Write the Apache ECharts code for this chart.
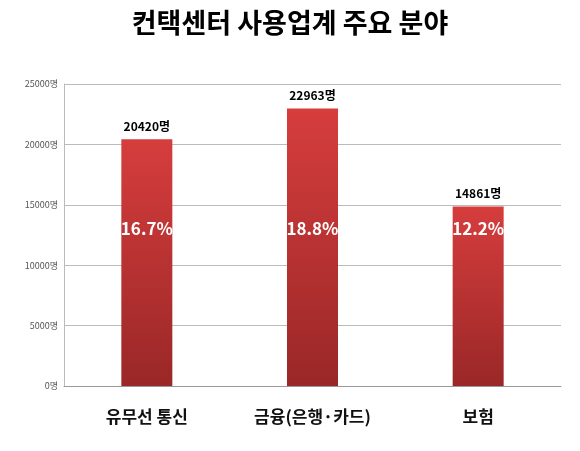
<!DOCTYPE html><html><head><meta charset="utf-8"><script src="https://cdn.jsdelivr.net/npm/echarts@6/dist/echarts.min.js"></script>
<style>html,body{margin:0;padding:0;background:#fff}#c{width:580px;height:451px}</style></head><body><div id="c"></div>
<script>
const categories=['유무선 통신','금융(은행·카드)','보험'];
const values=[20420,22963,14861];
const shares=['16.7%','18.8%','12.2%'];
const chart=echarts.init(document.getElementById('c'));
const font='"Noto Sans CJK KR","Noto Sans",sans-serif';
function opt(offsets){return{
 animation:false,
 title:{text:'컨택센터 사용업계 주요 분야',left:'center',top:4,textStyle:{fontSize:27,fontWeight:'bold',color:'#000',fontFamily:font}},
 grid:{left:64,right:19,top:84,bottom:65},
 xAxis:{type:'category',data:categories,axisLine:{lineStyle:{color:'#999'}},axisTick:{show:false},
  axisLabel:{fontSize:17,fontWeight:'bold',color:'#111',margin:22,fontFamily:font}},
 yAxis:{type:'value',min:0,max:25000,interval:5000,axisLine:{show:true,lineStyle:{color:'#bbb'}},
  splitLine:{lineStyle:{color:'#bbb'}},axisLabel:{formatter:v=>v+'명',fontSize:9,color:'#555',margin:6,fontFamily:font}},
 series:[{type:'bar',data:values,barWidth:51,
  itemStyle:{color:new echarts.graphic.LinearGradient(0,0,0,1,[{offset:0,color:'#d63d3d'},{offset:1,color:'#9a2727'}])},
  label:{show:true,position:'top',distance:7,formatter:p=>p.value+'명',fontSize:12,fontWeight:'bold',color:'#000',fontFamily:font}},
 {type:'bar',data:values.map((v,i)=>({value:v,label:{position:['50%',offsets?offsets[i]:20]}})),barWidth:51,barGap:'-100%',
  itemStyle:{color:'transparent'},
  label:{show:true,align:'center',verticalAlign:'middle',formatter:p=>shares[p.dataIndex],fontSize:17,fontWeight:'bold',color:'#fff',fontFamily:font}}]
};}
chart.setOption(opt(null));
const offs=values.map((v,i)=>229-chart.convertToPixel({gridIndex:0},[i,v])[1]);
chart.setOption(opt(offs));
</script></body></html>
